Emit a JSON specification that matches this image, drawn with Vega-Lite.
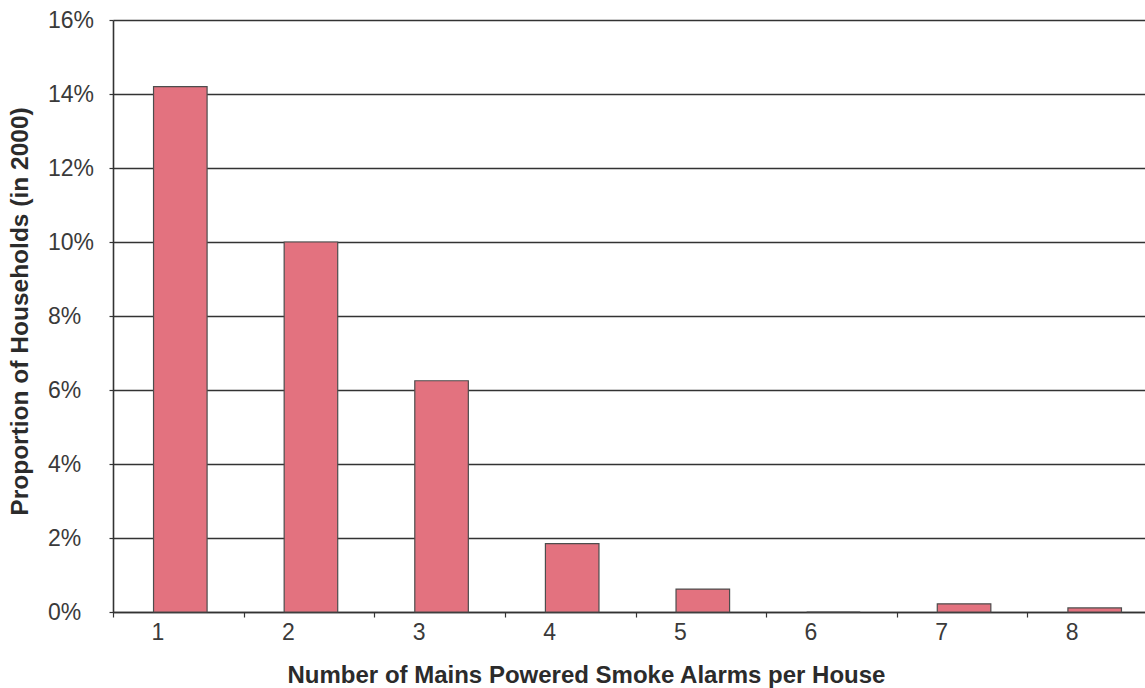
{
  "$schema": "https://vega.github.io/schema/vega-lite/v6.json",
  "width": 1032,
  "height": 592,
  "autosize": "none",
  "padding": {"left": 113, "top": 20, "right": 0, "bottom": 76},
  "background": "white",
  "config": {
    "view": {"stroke": null},
    "font": "Liberation Sans"
  },
  "data": {
    "values": [
      {"alarms": "1", "share": 0.142},
      {"alarms": "2", "share": 0.100},
      {"alarms": "3", "share": 0.0625},
      {"alarms": "4", "share": 0.0185},
      {"alarms": "5", "share": 0.0062},
      {"alarms": "6", "share": 0},
      {"alarms": "7", "share": 0.0022},
      {"alarms": "8", "share": 0.0011}
    ]
  },
  "mark": {
    "type": "bar",
    "fill": "#e3727f",
    "stroke": "#4d4d4d",
    "strokeWidth": 1.2,
    "xOffset": 2,
    "width": {"band": 0.41}
  },
  "encoding": {
    "x": {
      "field": "alarms",
      "type": "ordinal",
      "sort": null,
      "scale": {"range": [0, 1045], "paddingInner": 0, "paddingOuter": 0},
      "axis": {
        "title": "Number of Mains Powered Smoke Alarms per House",
        "titleFont": "Liberation Sans",
        "titleFontSize": 24,
        "titleFontWeight": "bold",
        "titleColor": "#2b2b2b",
        "titleX": 473,
        "titleY": 70,
        "titleBaseline": "alphabetic",
        "labelAngle": 0,
        "labelFont": "Liberation Sans",
        "labelFontSize": 23,
        "labelColor": "#3a3a3a",
        "labelOffset": -21,
        "labelPadding": 4,
        "tickBand": "extent",
        "tickSize": 5,
        "tickColor": "#333333",
        "tickWidth": 1.2,
        "domainColor": "#333333",
        "domainWidth": 1.6,
        "grid": false
      }
    },
    "y": {
      "field": "share",
      "type": "quantitative",
      "scale": {"domain": [0, 0.16], "nice": false},
      "axis": {
        "title": "Proportion of Households (in 2000)",
        "titleFont": "Liberation Sans",
        "titleFontSize": 24.5,
        "titleFontWeight": "bold",
        "titleColor": "#2b2b2b",
        "titleX": -86,
        "titleY": 291,
        "titleBaseline": "alphabetic",
        "values": [0, 0.02, 0.04, 0.06, 0.08, 0.1, 0.12, 0.14, 0.16],
        "format": ".0%",
        "labelFont": "Liberation Sans",
        "labelFontSize": 23,
        "labelColor": "#3a3a3a",
        "labelAlign": "left",
        "labelBaseline": "middle",
        "labelPadding": 61.5,
        "labelDy": 1,
        "tickSize": 4,
        "tickColor": "#333333",
        "tickWidth": 1.2,
        "domainColor": "#333333",
        "domainWidth": 1.6,
        "grid": true,
        "gridColor": "#333333",
        "gridWidth": 1.4
      }
    }
  }
}
